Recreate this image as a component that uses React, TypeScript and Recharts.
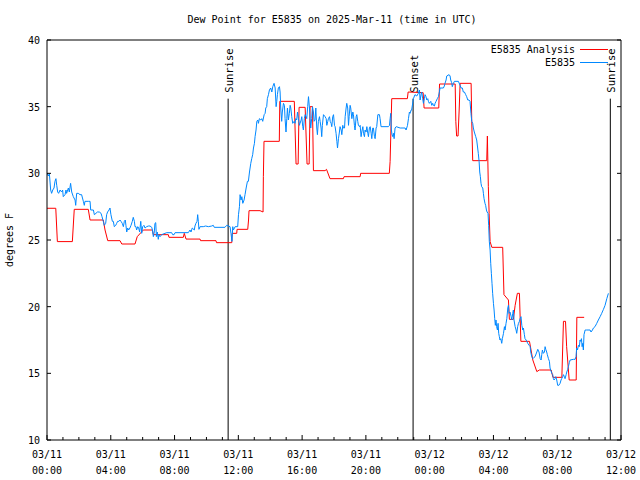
import React from "react";
import { Legend, Line, LineChart, ReferenceLine, XAxis, YAxis } from "recharts";

// hours since 03/11 00:00 UTC
const analysisHours = [
  0, 0.55, 0.65, 1.59, 1.71, 2.59, 2.7, 3.53, 3.64, 3.81, 4.58, 4.69, 5.52, 5.66, 6.04, 6.61, 6.67, 7.61,
  7.65, 8.55, 8.61, 8.72, 9.6, 9.63, 10.6, 10.63, 11.59, 11.61, 11.9, 11.92, 12.59, 12.64, 12.67, 13.36,
  13.55, 13.57, 13.61, 14.57, 14.6, 15.51, 15.62, 15.75, 15.81, 16.19, 16.31, 16.44, 16.5, 16.65, 16.71,
  17.44, 17.53, 17.75, 18.59, 18.63, 19.64, 19.67, 21.47, 21.52, 21.62, 22.6, 22.65, 23.59, 23.65, 24.57,
  24.62, 25.6, 25.64, 25.69, 25.78, 25.85, 25.91, 26.6, 26.64, 26.7, 27.58, 27.62, 27.68, 27.73, 27.79,
  27.9, 28.58, 28.66, 28.94, 29.0, 29.25, 29.36, 29.5, 29.63, 29.72, 30.26, 30.47, 30.72, 30.88, 31.62,
  31.73, 32.29, 32.39, 32.52, 32.59, 32.75, 33.19, 33.23, 33.69,
];
const analysisDewpoint = [
  27.38, 27.38, 24.88, 24.88, 27.3, 27.3, 26.5, 26.5, 25.75, 24.95, 24.95, 24.7, 24.7, 25.25, 25.75, 25.75,
  25.4, 25.4, 25.2, 25.2, 25.5, 25.07, 25.07, 24.95, 24.95, 24.8, 24.8, 25.5, 25.5, 25.8, 25.8, 26.5, 27.2,
  27.2, 27.1, 29.75, 32.4, 32.4, 35.4, 35.4, 30.7, 30.7, 34.95, 34.95, 30.7, 30.7, 35.0, 35.0, 30.2, 30.2,
  30.3, 29.6, 29.6, 29.75, 29.75, 30.0, 30.0, 30.9, 35.6, 35.6, 36.1, 36.05, 34.9, 34.9, 36.7, 36.7, 33.9,
  32.8, 32.8, 34.75, 36.75, 36.75, 33.9, 30.95, 30.95, 32.8, 29.0, 27.0, 24.88, 24.45, 24.45, 20.9, 20.5,
  19.05, 19.05, 20.1, 21.0, 21.0, 17.4, 17.4, 16.0, 15.13, 15.25, 15.25, 14.7, 14.7, 18.9, 18.9, 17.0,
  14.5, 14.5, 19.2, 19.2,
];

const obsHours = [
  0, 0.02, 0.08, 0.15, 0.23, 0.29, 0.36, 0.44, 0.5, 0.56, 0.61, 0.67, 0.73, 0.82, 0.92, 0.98, 1.02, 1.13,
  1.19, 1.23, 1.34, 1.4, 1.48, 1.55, 1.65, 1.76, 1.8, 1.86, 1.96, 2.07, 2.17, 2.28, 2.34, 2.38, 2.59, 2.7,
  2.74, 2.91, 2.97, 3.07, 3.16, 3.28, 3.39, 3.45, 3.53, 3.59, 3.68, 3.74, 3.8, 3.89, 3.95, 4.01, 4.1, 4.16,
  4.22, 4.31, 4.37, 4.43, 4.51, 4.58, 4.64, 4.72, 4.79, 4.85, 4.91, 4.95, 5.0, 5.06, 5.12, 5.2, 5.27, 5.35,
  5.41, 5.48, 5.52, 5.58, 5.62, 5.69, 5.75, 5.81, 5.88, 5.94, 6.0, 6.08, 6.15, 6.25, 6.36, 6.46, 6.57,
  6.61, 6.67, 6.73, 6.77, 6.82, 6.86, 6.92, 6.98, 7.02, 7.09, 7.19, 7.4, 7.51, 7.82, 7.88, 7.97, 8.03,
  8.86, 8.97, 9.03, 9.11, 9.24, 9.28, 9.34, 9.41, 9.45, 9.49, 9.53, 9.6, 9.8, 9.95, 10.12, 10.33, 10.43,
  10.49, 11.16, 11.27, 11.48, 11.54, 11.6, 11.65, 11.69, 11.8, 11.96, 12.01, 12.07, 12.11, 12.17, 12.22,
  12.28, 12.36, 12.42, 12.49, 12.57, 12.63, 12.7, 12.78, 12.84, 12.9, 12.95, 13.01, 13.05, 13.11, 13.16,
  13.22, 13.26, 13.32, 13.41, 13.47, 13.53, 13.62, 13.68, 13.72, 13.78, 13.82, 13.89, 13.95, 14.03, 14.1,
  14.16, 14.24, 14.31, 14.37, 14.41, 14.45, 14.51, 14.58, 14.62, 14.66, 14.72, 14.76, 14.83, 14.89, 14.93,
  14.99, 15.04, 15.08, 15.14, 15.2, 15.25, 15.29, 15.35, 15.41, 15.5, 15.56, 15.6, 15.66, 15.71, 15.77,
  15.83, 15.87, 15.94, 15.98, 16.04, 16.08, 16.14, 16.19, 16.25, 16.29, 16.35, 16.4, 16.46, 16.5, 16.54,
  16.6, 16.65, 16.71, 16.75, 16.81, 16.86, 16.92, 16.96, 17.02, 17.09, 17.13, 17.19, 17.23, 17.27, 17.34,
  17.44, 17.51, 17.55, 17.61, 17.65, 17.72, 17.76, 17.82, 17.86, 17.92, 17.97, 18.03, 18.07, 18.13, 18.18,
  18.22, 18.28, 18.34, 18.38, 18.45, 18.49, 18.55, 18.59, 18.66, 18.7, 18.76, 18.8, 18.86, 18.91, 18.95,
  19.01, 19.05, 19.12, 19.18, 19.22, 19.28, 19.32, 19.39, 19.43, 19.49, 19.53, 19.6, 19.64, 19.7, 19.74,
  19.81, 19.85, 19.91, 19.95, 20.01, 20.06, 20.12, 20.16, 20.22, 20.27, 20.33, 20.37, 20.43, 20.47, 20.54,
  20.58, 20.64, 20.68, 20.75, 20.85, 20.89, 20.95, 21.41, 21.48, 21.52, 21.56, 21.6, 21.64, 21.69, 21.73,
  21.77, 21.83, 21.9, 22.15, 22.46, 22.52, 22.56, 22.61, 22.67, 22.73, 22.77, 22.84, 22.87, 22.98, 23.08,
  23.19, 23.29, 23.36, 23.4, 23.46, 23.5, 23.56, 23.61, 23.67, 23.71, 23.77, 23.82, 23.88, 23.92, 23.98,
  24.07, 24.13, 24.19, 24.23, 24.3, 24.34, 24.4, 24.48, 24.55, 24.61, 24.65, 24.86, 24.92, 24.96, 25.03,
  25.07, 25.22, 25.28, 25.32, 25.38, 25.42, 25.49, 25.55, 25.8, 25.91, 25.97, 26.05, 26.11, 26.18, 26.26,
  26.32, 26.39, 26.47, 26.53, 26.59, 26.64, 26.7, 26.74, 26.8, 26.89, 26.95, 27.01, 27.05, 27.1, 27.14,
  27.18, 27.22, 27.26, 27.33, 27.37, 27.41, 27.47, 27.51, 27.56, 27.6, 27.66, 27.7, 27.74, 27.79, 27.83,
  27.87, 27.91, 27.95, 28.0, 28.04, 28.08, 28.12, 28.16, 28.2, 28.25, 28.29, 28.33, 28.37, 28.41, 28.46,
  28.52, 28.56, 28.63, 28.69, 28.73, 28.79, 28.84, 28.9, 28.94, 28.98, 29.04, 29.11, 29.15, 29.21, 29.25,
  29.29, 29.36, 29.42, 29.46, 29.52, 29.57, 29.63, 29.67, 29.73, 29.78, 29.84, 29.88, 29.94, 29.98, 30.05,
  30.09, 30.15, 30.24, 30.3, 30.34, 30.4, 30.47, 30.55, 30.61, 30.72, 30.78, 30.86, 30.93, 30.99, 31.03,
  31.07, 31.13, 31.2, 31.24, 31.28, 31.34, 31.38, 31.45, 31.51, 31.55, 31.59, 31.66, 31.72, 31.76, 31.8,
  31.87, 31.91, 31.97, 32.03, 32.1, 32.18, 32.24, 32.28, 32.35, 32.39, 32.45, 32.49, 32.56, 32.6, 32.66,
  32.7, 32.76, 32.81, 33.02, 33.12, 33.18, 33.22, 33.27, 33.33, 33.39, 33.43, 33.47, 33.52, 33.56, 33.6,
  33.64, 33.68, 33.75, 33.85, 34.06, 34.12, 34.21, 34.27, 34.37, 34.48, 34.58, 34.69, 34.79, 34.9, 35.0,
  35.11, 35.21,
];
const obsDewpoint = [
  29.9, 30.0, 29.8, 29.95, 28.75, 28.5, 28.75, 28.9, 29.4, 29.6, 29.1, 28.6, 28.5, 28.75, 28.6, 28.75,
  28.25, 28.4, 28.75, 28.5, 28.9, 28.6, 29.25, 28.6, 28.25, 28.0, 27.6, 28.5, 28.5, 28.4, 28.4, 27.9, 27.6,
  27.9, 27.9, 27.9, 27.25, 27.25, 26.9, 27.0, 27.1, 27.1, 27.0, 26.75, 26.4, 26.1, 26.25, 26.9, 27.1,
  27.25, 27.4, 26.9, 26.4, 26.4, 26.0, 26.1, 26.25, 26.4, 26.4, 26.5, 26.4, 26.25, 26.0, 26.4, 26.5, 26.1,
  25.6, 25.9, 25.75, 25.9, 26.1, 26.4, 26.7, 26.4, 26.0, 26.0, 25.75, 26.0, 25.9, 25.6, 26.4, 25.5, 26.0,
  26.1, 25.9, 26.0, 26.05, 26.05, 25.95, 25.75, 25.25, 25.6, 26.25, 26.3, 25.25, 25.6, 25.05, 25.4, 25.25,
  25.4, 25.5, 25.55, 25.55, 25.4, 25.4, 25.55, 25.55, 25.75, 25.6, 25.9, 25.75, 26.05, 26.25, 26.4, 26.9,
  26.4, 25.8, 26.0, 26.0, 26.05, 26.0, 26.05, 26.1, 25.95, 25.95, 26.1, 26.0, 25.5, 24.9, 26.0, 25.75,
  26.0, 26.0, 26.9, 27.5, 28.4, 28.0, 28.25, 27.75, 28.0, 28.4, 28.9, 29.4, 29.4, 30.1, 30.75, 31.1, 31.4,
  31.9, 32.25, 32.75, 33.25, 33.9, 34.0, 33.75, 34.1, 34.0, 34.1, 33.9, 34.4, 34.5, 34.9, 35.0, 35.6,
  35.9, 36.25, 36.4, 36.1, 36.5, 36.75, 36.4, 35.0, 35.4, 35.9, 36.4, 36.5, 36.1, 34.9, 33.9, 34.6,
  35.25, 35.1, 34.1, 33.1, 34.1, 34.9, 34.0, 34.5, 35.1, 34.9, 34.25, 33.75, 33.9, 33.75, 34.1, 34.0,
  34.6, 34.1, 33.6, 33.75, 34.0, 34.25, 33.5, 33.25, 34.1, 34.4, 34.25, 34.1, 35.0, 35.75, 34.9, 34.1,
  33.4, 34.1, 35.0, 34.6, 33.9, 34.0, 34.9, 33.4, 32.9, 33.9, 34.25, 33.9, 33.4, 32.75, 33.6, 34.4, 34.25,
  34.1, 33.6, 33.9, 34.1, 34.25, 33.9, 33.75, 33.5, 34.25, 34.4, 33.6, 33.5, 33.0, 32.4, 31.9, 32.6, 33.1,
  33.5, 33.25, 32.9, 33.6, 33.4, 33.4, 34.25, 34.9, 35.25, 34.9, 33.6, 34.25, 35.1, 34.9, 34.1, 34.6, 34.4,
  33.6, 33.25, 34.25, 34.4, 33.9, 33.6, 33.5, 33.6, 32.75, 33.1, 33.5, 33.0, 32.75, 33.25, 33.1, 33.5,
  33.0, 32.75, 33.4, 33.5, 33.0, 32.6, 33.4, 33.4, 32.75, 32.6, 33.4, 33.5, 34.4, 34.4, 34.1, 33.5, 33.5,
  33.6, 34.1, 34.5, 33.25, 32.9, 32.75, 33.0, 32.6, 33.4, 33.5, 33.4, 33.4, 33.25, 33.4, 33.6, 34.1, 34.6,
  34.5, 34.75, 34.75, 35.6, 35.9, 35.8, 36.0, 36.25, 35.5, 35.9, 36.1, 35.6, 35.25, 35.6, 35.9, 35.75,
  35.5, 35.6, 35.4, 35.25, 35.4, 35.1, 35.25, 35.1, 35.05, 35.25, 35.4, 35.6, 35.75, 36.1, 36.4, 36.4,
  36.55, 36.75, 37.0, 37.3, 37.4, 37.3, 37.0, 36.8, 36.5, 36.75, 36.9, 36.9, 36.6, 36.4, 36.4, 36.1, 36.1,
  35.9, 35.75, 35.5, 35.5, 35.4, 34.5, 33.9, 33.75, 33.4, 33.1, 32.75, 32.5, 31.9, 31.5, 30.9, 30.1,
  29.75, 29.25, 29.0, 28.9, 28.5, 28.1, 27.75, 27.6, 27.25, 27.1, 27.0, 26.1, 24.9, 24.25, 23.25, 22.5,
  21.75, 21.0, 20.25, 19.75, 19.1, 18.6, 19.0, 18.5, 18.25, 18.75, 18.0, 17.75, 17.5, 17.6, 17.25, 17.6,
  18.0, 18.5, 18.25, 18.75, 19.1, 19.9, 20.1, 19.5, 19.6, 19.25, 19.0, 19.5, 19.75, 19.0, 18.5, 18.25,
  18.0, 18.5, 18.75, 18.9, 19.1, 19.25, 18.6, 18.25, 18.4, 17.9, 17.6, 17.5, 17.4, 17.25, 17.1, 17.0,
  16.6, 16.25, 16.1, 16.2, 16.25, 16.6, 16.8, 16.6, 16.1, 16.0, 16.4, 16.75, 16.5, 16.6, 17.0, 16.8, 16.6,
  16.4, 16.1, 15.9, 15.4, 15.25, 15.0, 14.9, 14.6, 14.5, 14.6, 14.75, 14.5, 14.1, 14.1, 14.25, 14.5,
  14.6, 14.75, 14.9, 14.75, 14.6, 14.9, 15.1, 15.3, 15.5, 15.8, 16.0, 16.05, 16.05, 16.25, 16.9, 16.75,
  17.1, 17.0, 17.5, 17.4, 17.6, 17.0, 17.25, 16.75, 17.9, 18.25, 18.25, 18.25, 18.1, 18.25, 18.4, 18.5,
  18.75, 19.0, 19.25, 19.5, 19.8, 20.1, 20.6, 21.0,
];

const majorHours = [0, 4, 8, 12, 16, 20, 24, 28, 32, 36];
const dateLabels = ["03/11", "03/11", "03/11", "03/11", "03/11", "03/11", "03/12", "03/12", "03/12", "03/12"];
const timeLabels = ["00:00", "04:00", "08:00", "12:00", "16:00", "20:00", "00:00", "04:00", "08:00", "12:00"];
const hourTicks = Array.from({ length: 37 }, (_, i) => i);
const yTicks = [10, 15, 20, 25, 30, 35, 40];

const sunHours = [11.36, 22.96, 35.33];
const sunLabels = ["Sunrise", "Sunset", "Sunrise"];

const analysisData = analysisHours.map((h, i) => ({ h, v: analysisDewpoint[i] }));
const obsData = obsHours.map((h, i) => ({ h, v: obsDewpoint[i] }));

const FONT = "'DejaVu Sans Mono', 'Liberation Mono', monospace";
const RED = "#ff0000";
const BLUE = "#0088ff";

function BottomTick({ x, y, payload }: any) {
  const i = majorHours.indexOf(payload.value);
  const len = i >= 0 ? 5 : 3;
  return (
    <g>
      <line x1={x} x2={x} y1={y} y2={y - len} stroke="#000" />
      {i >= 0 && (
        <text x={x} y={y + 18} textAnchor="middle" fontFamily={FONT} fontSize={10} fill="#000">
          {dateLabels[i]}
        </text>
      )}
      {i >= 0 && (
        <text x={x} y={y + 34} textAnchor="middle" fontFamily={FONT} fontSize={10} fill="#000">
          {timeLabels[i]}
        </text>
      )}
    </g>
  );
}

function TopTick({ x, y, payload }: any) {
  const len = majorHours.includes(payload.value) ? 5 : 3;
  return <line x1={x} x2={x} y1={y} y2={y + len} stroke="#000" />;
}

function LeftTick({ x, y, payload }: any) {
  return (
    <g>
      <line x1={x} x2={x + 4} y1={y} y2={y} stroke="#000" />
      <text x={x - 7} y={y + 4} textAnchor="end" fontFamily={FONT} fontSize={10} fill="#000">
        {payload.value}
      </text>
    </g>
  );
}

function RightTick({ x, y }: any) {
  return <line x1={x} x2={x - 4} y1={y} y2={y} stroke="#000" />;
}

function SunLabel({ viewBox, text }: any) {
  const { x, y } = viewBox;
  return (
    <text
      transform={`translate(${x + 4.5}, ${y - 6}) rotate(-90)`}
      fontFamily={FONT}
      fontSize={10.5}
      fill="#000"
    >
      {text}
    </text>
  );
}

function YTitle({ viewBox }: any) {
  const cy = viewBox.y + viewBox.height / 2;
  return (
    <text
      transform={`translate(13, ${cy}) rotate(-90)`}
      textAnchor="middle"
      fontFamily={FONT}
      fontSize={10}
      fill="#000"
    >
      degrees F
    </text>
  );
}

function LegendBox() {
  const rows = [
    { name: "E5835 Analysis", color: RED },
    { name: "E5835", color: BLUE },
  ];
  return (
    <svg width={150} height={28}>
      {rows.map((r, i) => (
        <g key={r.name}>
          <text x={105} y={11 + i * 13} textAnchor="end" fontFamily={FONT} fontSize={10} fill="#000">
            {r.name}
          </text>
          <line x1={110} x2={138} y1={7.5 + i * 13} y2={7.5 + i * 13} stroke={r.color} />
        </g>
      ))}
    </svg>
  );
}

export default function App() {
  return (
    <div style={{ position: "absolute", left: 0, top: 0, width: 640, height: 480, background: "#fff" }}>
      <div
        style={{
          position: "absolute",
          top: 14,
          left: 0,
          width: 664,
          textAlign: "center",
          fontFamily: FONT,
          fontSize: 10,
          color: "#000",
        }}
      >
        Dew Point for E5835 on 2025-Mar-11 (time in UTC)
      </div>
      <LineChart width={640} height={480} margin={{ top: 30, right: 9, bottom: 0, left: 7 }}>
        <XAxis
          type="number"
          dataKey="h"
          domain={[0, 36]}
          ticks={hourTicks}
          interval={0}
          tick={<BottomTick />}
          tickLine={false}
          tickSize={0}
          tickMargin={0}
          axisLine={{ stroke: "#000" }}
          height={40}
          allowDataOverflow
        />
        <XAxis
          xAxisId="top"
          orientation="top"
          type="number"
          domain={[0, 36]}
          ticks={hourTicks}
          interval={0}
          tick={<TopTick />}
          tickLine={false}
          tickSize={0}
          tickMargin={0}
          axisLine={{ stroke: "#000" }}
          height={10}
          allowDataOverflow
        />
        <YAxis
          type="number"
          domain={[10, 40]}
          ticks={yTicks}
          interval={0}
          tick={<LeftTick />}
          tickLine={false}
          tickSize={0}
          tickMargin={0}
          axisLine={{ stroke: "#000" }}
          width={40}
          label={<YTitle />}
          allowDataOverflow
        />
        <YAxis
          yAxisId="right"
          orientation="right"
          type="number"
          domain={[10, 40]}
          ticks={yTicks}
          interval={0}
          tick={<RightTick />}
          tickLine={false}
          tickSize={0}
          tickMargin={0}
          axisLine={{ stroke: "#000" }}
          width={10}
          allowDataOverflow
        />
        {sunHours.map((h, i) => (
          <ReferenceLine
            key={i}
            segment={[
              { x: h, y: 10 },
              { x: h, y: 35.6 },
            ]}
            stroke="#000"
            strokeWidth={1}
            label={<SunLabel text={sunLabels[i]} />}
          />
        ))}
        <Line
          data={analysisData}
          dataKey="v"
          name="E5835 Analysis"
          type="linear"
          stroke={RED}
          strokeWidth={1}
          dot={false}
          isAnimationActive={false}
        />
        <Line
          data={obsData}
          dataKey="v"
          name="E5835"
          type="linear"
          stroke={BLUE}
          strokeWidth={1}
          dot={false}
          isAnimationActive={false}
        />
        <Legend
          layout="vertical"
          verticalAlign="middle"
          align="center"
          content={() => <LegendBox />}
          wrapperStyle={{ top: 42, left: 470, width: 150, height: 28 }}
        />
      </LineChart>
    </div>
  );
}
